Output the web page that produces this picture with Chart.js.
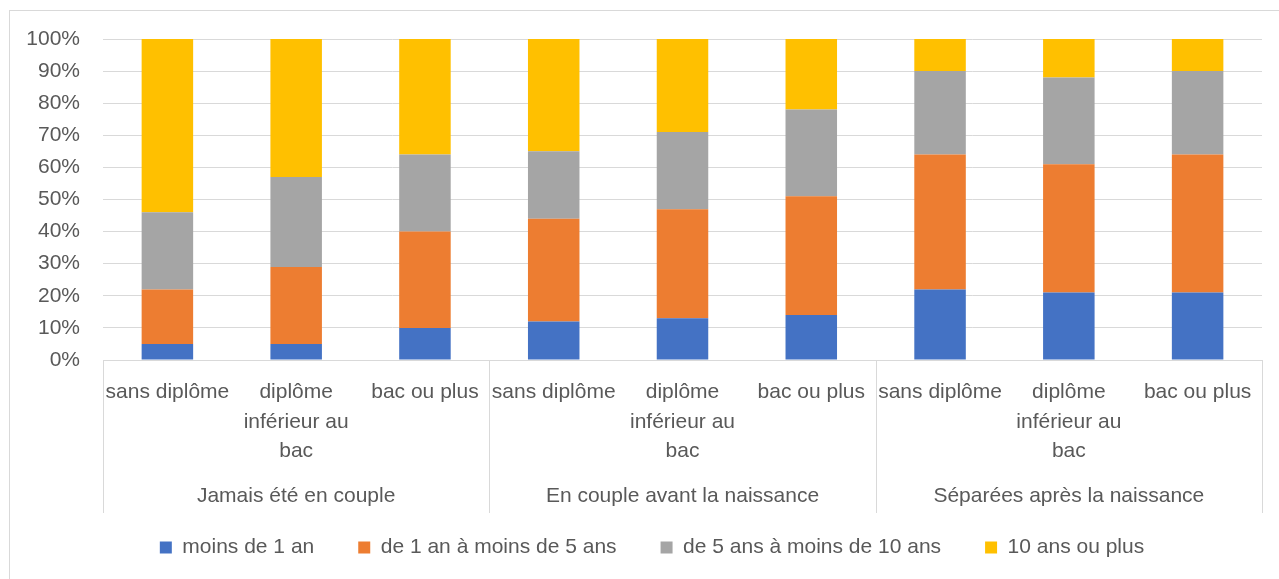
<!DOCTYPE html>
<html>
<head>
<meta charset="utf-8">
<script src="https://cdn.jsdelivr.net/npm/chart.js@4"></script>
<style>
  html, body { margin: 0; padding: 0; background: #fff; }
  #wrap { position: relative; width: 1279px; height: 579px; overflow: hidden; }
  #frame { position: absolute; left: 9px; top: 10px; width: 1300px; height: 600px;
           border-left: 1px solid #d9d9d9; border-top: 1px solid #d9d9d9; }
  #chart { position: absolute; left: 0; top: 0; }
</style>
</head>
<body>
<div id="wrap">
  <div id="frame"></div>
  <canvas id="chart" width="1279" height="579"></canvas>
</div>
<script>
const categories = [
    'sans diplôme', ['diplôme', 'inférieur au', 'bac'], 'bac ou plus',
    'sans diplôme', ['diplôme', 'inférieur au', 'bac'], 'bac ou plus',
    'sans diplôme', ['diplôme', 'inférieur au', 'bac'], 'bac ou plus'
];
const groups = ['Jamais été en couple', 'En couple avant la naissance', 'Séparées après la naissance'];

const seriesNames = ['moins de 1 an', 'de 1 an à moins de 5 ans', 'de 5 ans à moins de 10 ans', '10 ans ou plus'];
const lessThan1 = [5, 5, 10, 12, 13, 14, 22, 21, 21];
const from1to5 = [17, 24, 30, 32, 34, 37, 42, 40, 43];
const from5to10 = [24, 28, 24, 21, 24, 27, 26, 27, 26];
const tenOrMore = [54, 43, 36, 35, 29, 22, 10, 12, 10];
const yTicks = [0, 10, 20, 30, 40, 50, 60, 70, 80, 90, 100];

const colors = ['#4472C4', '#ED7D31', '#A5A5A5', '#FFC000'];
const textColor = '#595959';
const lineColor = '#d9d9d9';
const font = { family: 'Liberation Sans', size: 21 };

// second level of the category axis: group names and the separators between groups
const groupAxis = {
    id: 'groupAxis',
    afterDraw: function(chart) {
        const x = chart.scales.x;
        const ctx = chart.ctx;
        const top = chart.chartArea.bottom;
        ctx.save();
        ctx.strokeStyle = lineColor;
        ctx.lineWidth = 1;
        for (let i = 0; i <= groups.length; i++) {
            const px = Math.round(x.getPixelForValue(i * 3 - 0.5)) + 0.5;
            ctx.beginPath();
            ctx.moveTo(px, top);
            ctx.lineTo(px, top + 153);
            ctx.stroke();
        }
        ctx.fillStyle = textColor;
        ctx.font = font.size + 'px "' + font.family + '"';
        ctx.textAlign = 'center';
        ctx.textBaseline = 'middle';
        groups.forEach(function(name, i) {
            ctx.fillText(name, x.getPixelForValue(i * 3 + 1), top + 136);
        });
        ctx.restore();
    }
};

const datasets = [lessThan1, from1to5, from5to10, tenOrMore].map(function(values, i) {
    return {
        label: seriesNames[i],
        data: values,
        backgroundColor: colors[i],
        borderWidth: 0,
        categoryPercentage: 1,
        barPercentage: 0.4
    };
});

new Chart(document.getElementById('chart'), {
    type: 'bar',
    data: { labels: categories, datasets: datasets },
    plugins: [groupAxis],
    options: {
        responsive: false,
        animation: false,
        layout: { padding: { top: 39, right: 0, left: 25, bottom: 11 } },
        scales: {
            x: {
                stacked: true,
                grid: { display: false },
                border: { display: true, color: lineColor, width: 1 },
                ticks: {
                    color: textColor,
                    font: Object.assign({ lineHeight: 1.4 }, font),
                    maxRotation: 0,
                    autoSkip: false,
                    padding: 10
                },
                afterFit: function(scale) { scale.height = 133; }
            },
            y: {
                stacked: true,
                min: 0,
                max: 100,
                afterBuildTicks: function(scale) {
                    scale.ticks = yTicks.map(function(v) { return { value: v }; });
                },
                grid: { color: lineColor, lineWidth: 1, drawTicks: false },
                border: { display: false },
                ticks: {
                    color: textColor,
                    font: font,
                    padding: 23,
                    callback: function(v) { return v + '%'; }
                },
                afterFit: function(scale) { scale.width = 78; }
            },
            // empty right-hand margin so the plot ends where the reference does
            spacer: {
                type: 'linear',
                position: 'right',
                grid: { display: false },
                border: { display: false },
                ticks: { display: false },
                afterFit: function(scale) { scale.width = 17; }
            }
        },
        plugins: {
            legend: {
                position: 'bottom',
                labels: {
                    color: textColor,
                    font: font,
                    boxWidth: 12,
                    boxHeight: 12,
                    padding: 44
                }
            },
            tooltip: { enabled: false }
        }
    }
});
</script>
</body>
</html>
